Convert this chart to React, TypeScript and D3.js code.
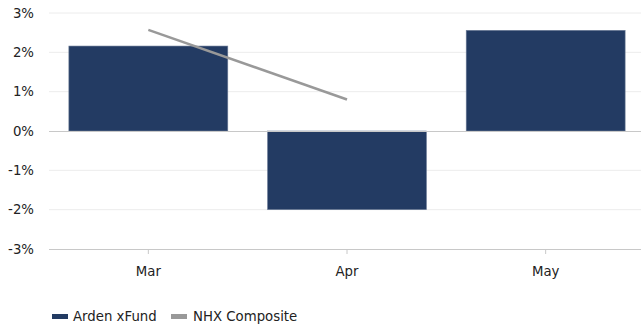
import React from "react";
import * as d3 from "d3";

const categories = ["Mar", "Apr", "May"];
const fundValues = [2.16, -2.0, 2.56];
const compositeValues: (number | null)[] = [2.57, 0.8, null];
const yTicks = [-3, -2, -1, 0, 1, 2, 3];
const seriesNames = ["Arden xFund", "NHX Composite"];

const W = 641;
const H = 331;
// the category band runs slightly past the visible right edge
const plot = { left: 49, right: 645, top: 13, bottom: 249 };
const FONT = "Verdana, 'DejaVu Sans', sans-serif";
const FS = 13.3;
const BAR = "#233b63";
const LINE = "#999999";

export default function App() {
  const x = d3
    .scaleBand<string>()
    .domain(categories)
    .range([plot.left, plot.right])
    .paddingInner(0.2)
    .paddingOuter(0.1);
  const xc = d3.scalePoint<string>().domain(categories).range([plot.left, plot.right]).padding(0.5);
  const y = d3.scaleLinear().domain([-3, 3]).range([plot.bottom, plot.top]);

  const linePts = categories
    .map((c, i) => ({ c, v: compositeValues[i] }))
    .filter((d) => d.v !== null) as { c: string; v: number }[];
  const line = d3
    .line<{ c: string; v: number }>()
    .x((d) => xc(d.c)!)
    .y((d) => y(d.v));

  return (
    <svg
      width={W}
      height={H}
      style={{ position: "absolute", left: 0, top: 0, fontFamily: FONT }}
    >
      <rect width={W} height={H} fill="#fff" />
      {yTicks.map((t) => (
        <g key={t}>
          {t !== 0 && t !== -3 && (
            <line x1={plot.left} x2={W} y1={y(t)} y2={y(t)} stroke="#ececec" strokeWidth={1} />
          )}
          <text x={34} y={y(t)} dy="0.35em" textAnchor="end" fontSize={FS} fill="#222">
            {`${t}%`}
          </text>
        </g>
      ))}
      {categories.map((c, i) => {
        const v = fundValues[i];
        return (
          <rect
            key={c}
            x={x(c)!}
            width={x.bandwidth()}
            y={y(Math.max(0, v))}
            height={Math.abs(y(v) - y(0))}
            fill={BAR}
            stroke="#6f7f99"
            strokeWidth={0.6}
          />
        );
      })}
      <line x1={plot.left} x2={W} y1={y(0) + 0.5} y2={y(0) + 0.5} stroke="#c8c8c8" strokeWidth={1.2} />
      <line x1={plot.left} x2={W} y1={y(-3) + 0.5} y2={y(-3) + 0.5} stroke="#c8c8c8" strokeWidth={1.2} />
      {categories.map((c) => (
        <g key={c}>
          <line x1={xc(c)!} x2={xc(c)!} y1={y(-3)} y2={y(-3) + 5} stroke="#c8c8c8" />
          <text x={xc(c)!} y={276} textAnchor="middle" fontSize={FS} fill="#222">
            {c}
          </text>
        </g>
      ))}
      <path d={line(linePts) ?? ""} fill="none" stroke={LINE} strokeWidth={2.5} />
      <g>
        <rect x={52} y={314} width={16} height={5} fill={BAR} />
        <text x={73} y={321} fontSize={FS} fill="#222">
          {seriesNames[0]}
        </text>
        <rect x={171} y={314} width={16} height={5} fill={LINE} />
        <text x={193} y={321} fontSize={FS} fill="#222">
          {seriesNames[1]}
        </text>
      </g>
    </svg>
  );
}
